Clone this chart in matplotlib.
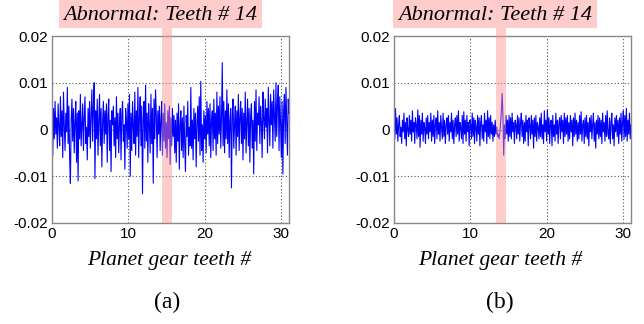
import numpy as np
import matplotlib
matplotlib.use("Agg")
import matplotlib.pyplot as plt
from matplotlib.patches import Rectangle
from matplotlib import transforms

# ---- data (units of 1e-4) ----
signal_a = [
    30, -55, 45, -20, 60, -10, 25, -40, 55, 5,
    -35, 70, -15, 40, -60, 80, 10, -45, 35, -5,
    90, -30, 50, -60, -115, 20, 65, -25, 45, -50,
    15, 60, -70, 35, -110, 40, -20, 75, -35, 10,
    55, -45, 25, 70, -30, 5, -65, 45, -15, 60,
    -40, 30, 85, -25, 50, 100, -105, 40, -20, 65,
    -55, 20, 75, -35, 45, -80, 15, 60, -30, 40,
    -10, 55, -70, 30, 65, -45, 20, -90, 40, 10,
    50, -35, 25, -60, 70, -20, 35, -50, 15, 45,
    -65, 30, 60, -25, 10, -85, 45, 20, -40, 55,
    -20, 75, -100, 35, -45, 60, 5, -30, 80, -55,
    40, -15, 90, -60, 25, 70, -35, 50, -137, 20,
    60, -40, 95, -25, 35, -70, 55, 10, -50, 75,
    -30, 45, -115, 65, -20, 85, 30, -60, 40, -10,
    50, -45, 20, 60, -55, 35, -25, 55, -40, 15,
    -60, 40, -20, 50, -75, 25, -35, 45, -15, 30,
    -50, 20, -70, 35, -25, 55, -85, 10, 40, -45,
    25, -60, 50, -30, -90, 30, -15, 60, -55, 5,
    -35, 90, -40, 20, -65, 45, -20, 35, -80, 15,
    50, -25, 70, -55, 103, -45, 10, -70, 40, -20,
    30, -50, 60, -10, 45, -35, 55, -60, 20, 40,
    -45, 65, -20, 35, -55, 80, -30, 50, -10, 70,
    -40, 25, 143, -35, 60, -50, 40, -20, 85, -30,
    55, -60, 20, 45, -125, 30, 65, -40, 10, 50,
    -55, 40, -15, 75, -45, 25, 60, -30, 45, -65,
    35, -20, 80, -50, 15, 65, -35, 45, -70, 30,
    55, -40, 20, -95, 60, -25, 85, -45, 35, 10,
    70, -30, 50, 15, -60, 80, 25, -20, 65, 5,
    45, -50, 90, 20, -35, 75, 10, 60, -40, 85,
    30, -25, 100, -15, 55, 95, -45, 70, 15, -60,
    60, -95, 40, 75, -30, 90, 20, -55, 65, 35,
]
signal_b = [
    15, -20, 45, -10, 25, -25, 10, 30, -15, 5,
    -30, 20, -5, 35, -20, 15, -35, 25, 0, -15,
    30, -10, 20, -25, 40, -5, 15, -30, 25, 10,
    -20, 42, -15, 30, -38, 20, -10, 35, -25, 15,
    5, -30, 25, -10, 30, -20, 15, -5, 35, -25,
    20, -15, 30, -30, 10, 25, -20, 40, -10, 15,
    -25, 30, 5, -20, 35, -15, 20, -30, 10, 25,
    -10, 30, -25, 15, -5, 35, -20, 20, -30, 10,
    25, -15, 30, -10, 40, -25, 15, 5, -20, 30,
    -30, 38, -10, 20, -25, 30, -5, 15, -35, 20,
    10, -20, 35, -15, 25, -30, 20, 5, -25, 30,
    -10, 25, -35, 15, 30, -20, 10, -25, 35, -5,
    20, -30, 40, -15, 25, -20, 30, -10, 15, -25,
    10, -15, 20, -10, 5, -15, -10, -20, -5, 15,
    40, 77, 30, -55, 10, -20, 30, -10, 20, -25,
    30, -15, 25, -20, 35, -5, 15, -30, 20, 10,
    -20, 30, -10, 25, -25, 15, 35, -15, 20, -30,
    15, -25, 30, -5, 20, -35, 25, 10, -20, 30,
    -10, 20, -40, 25, -15, 30, -25, 15, 5, -20,
    25, -15, 35, -20, 10, -30, 40, -5, 20, -25,
    42, -10, 25, -30, 15, 20, -35, 30, -15, 10,
    -25, 35, -10, 20, -30, 15, 25, -20, 30, -5,
    20, -30, 35, -15, 25, -10, 30, -25, 15, -20,
    30, -5, 20, -35, 25, -15, 35, -10, 20, -25,
    15, -20, 30, -10, 38, -25, 10, 20, -30, 25,
    -15, 30, -20, 15, -35, 25, -5, 30, -20, 10,
    35, -25, 15, -40, 20, -10, 30, -20, 25, -15,
    20, -30, 35, -5, 15, -25, 30, -15, 40, -10,
    -20, 25, -30, 15, 35, -20, 10, -35, 25, -5,
    30, -15, 20, -30, 25, -10, 35, -25, 15, 40,
    -20, 30, -15, 45, -25, 20, -10, 35, -20, 10,
]
band_a = (14.4, 15.7)
band_b = (13.3, 14.7)
x_max = 31
title_text = "Abnormal: Teeth # 14"
xlabel_text = "Planet gear teeth #"
panel_labels = ["(a)", "(b)"]
xticks = [0, 10, 20, 30]
yticks = [-0.02, -0.01, 0, 0.01, 0.02]
yticklabels = ["-0.02", "-0.01", "0", "0.01", "0.02"]

W, H = 644, 324
fig = plt.figure(figsize=(W / 100, H / 100), dpi=100)

serif = ["Liberation Serif", "DejaVu Serif"]
sans = ["Liberation Sans", "DejaVu Sans"]
pink = (1.0, 0.56, 0.56)
box_pink = (1.0, 0.8, 0.8)

def px2fx(px):
    return px / W

def py2fy(py):
    return 1 - py / H

panels = [
    (signal_a, band_a, 52, 289, 59, 262, 169, 167),
    (signal_b, band_b, 394, 631, 393, 597, 500, 500),
]
for i, (sig, band, l, r, bl, br, xl_c, pl_c) in enumerate(panels):
    ax = fig.add_axes([px2fx(l), py2fy(223), px2fx(r - l), py2fy(36) - py2fy(223)])
    y = np.array(sig) * 1e-4
    x = np.linspace(0, x_max, len(y))
    ax.plot(x, y, color="#0000ff", lw=0.8, zorder=2)
    ax.set_xlim(0, x_max)
    ax.set_ylim(-0.02, 0.02)
    ax.set_xticks(xticks)
    ax.set_yticks(yticks)
    ax.set_yticklabels(yticklabels)
    ax.grid(True, ls=(0, (1, 2)), color="#555555", lw=0.8)
    ax.tick_params(length=0, pad=3, labelsize=11)
    for lab in ax.get_xticklabels() + ax.get_yticklabels():
        lab.set_family(sans)
    for s in ax.spines.values():
        s.set_color("#888888")
        s.set_linewidth(1.0)
    ax.set_axisbelow(True)
    # band
    tr = transforms.blended_transform_factory(ax.transData, fig.transFigure)
    ax.add_patch(Rectangle((band[0], py2fy(223)), band[1] - band[0],
                           py2fy(28) - py2fy(223), transform=tr,
                           facecolor=pink, alpha=0.45, edgecolor="none",
                           clip_on=False, zorder=3))
    # title box
    fig.patches.append(Rectangle((px2fx(bl), py2fy(28)), px2fx(br - bl),
                                 py2fy(0) - py2fy(28), transform=fig.transFigure,
                                 facecolor=box_pink, edgecolor="none", zorder=1))
    fig.text(px2fx((bl + br) / 2), py2fy(15), title_text, ha="center", va="center",
             fontsize=16, style="italic", family=serif)
    fig.text(px2fx(xl_c), py2fy(260), xlabel_text, ha="center", va="center",
             fontsize=15.5, style="italic", family=serif)
    fig.text(px2fx(pl_c), py2fy(302), panel_labels[i], ha="center", va="center",
             fontsize=17, family=serif)

fig.savefig("out.png", dpi=100)
